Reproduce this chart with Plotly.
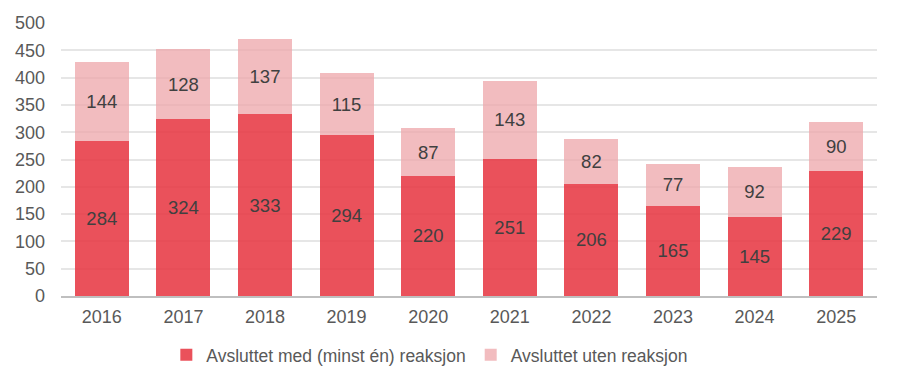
import plotly.graph_objects as go

years = ["2016", "2017", "2018", "2019", "2020", "2021", "2022", "2023", "2024", "2025"]
med_reaksjon = [284, 324, 333, 294, 220, 251, 206, 165, 145, 229]
uten_reaksjon = [144, 128, 137, 115, 87, 143, 82, 77, 92, 90]

font_family = "Liberation Sans, Arial, sans-serif"

fig = go.Figure()
fig.add_trace(go.Bar(
    x=years, y=med_reaksjon, name="Avsluttet med (minst én) reaksjon",
    marker=dict(color="rgba(230,50,62,0.85)", line=dict(width=0)),
    text=med_reaksjon, textposition="inside", insidetextanchor="middle",
    textfont=dict(size=18.5, color="#404040", family=font_family),
))
fig.add_trace(go.Bar(
    x=years, y=uten_reaksjon, name="Avsluttet uten reaksjon",
    marker=dict(color="rgba(238,165,170,0.75)", line=dict(width=0)),
    text=uten_reaksjon, textposition="inside", insidetextanchor="middle",
    textfont=dict(size=18.5, color="#404040", family=font_family),
))

fig.update_layout(
    barmode="stack",
    bargap=0.34,
    width=900, height=387,
    margin=dict(l=53, r=31, t=15, b=99, autoexpand=False),
    paper_bgcolor="white", plot_bgcolor="white",
    font=dict(family=font_family, size=18, color="#595959"),
    uniformtext=dict(mode=False),
    legend=dict(orientation="h", x=0.452, xanchor="center", y=-0.15, yanchor="top",
                font=dict(size=17.5, color="#595959"), traceorder="normal",
                itemwidth=30),
    xaxis=dict(showline=True, linecolor="#BFBFBF", linewidth=1.5, ticks="", automargin=False,
               tickfont=dict(size=18, color="#595959"), ticklabelstandoff=4),
    yaxis=dict(range=[0, 500], dtick=50, showgrid=True, gridcolor="#E6E6E6", gridwidth=1.5,
               zeroline=False, ticks="", automargin=False,
               tickfont=dict(size=18, color="#595959"), ticklabelstandoff=15),
)

fig.write_html("out.html")
